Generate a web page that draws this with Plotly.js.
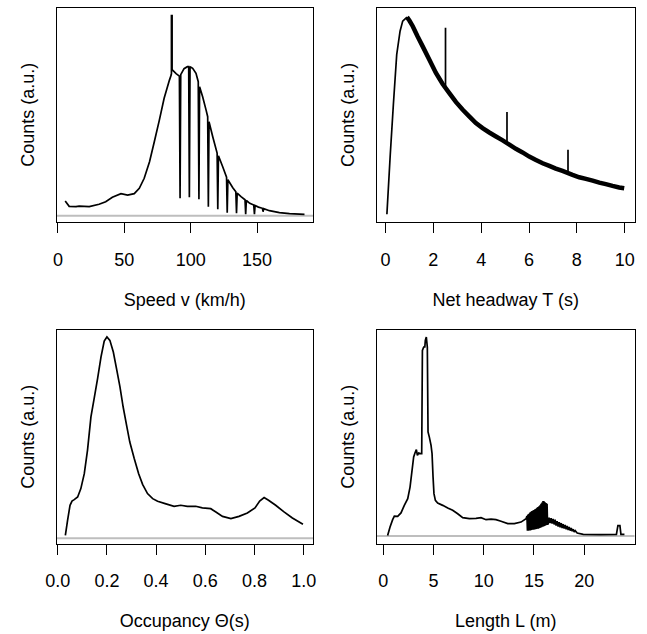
<!DOCTYPE html>
<html>
<head>
<meta charset="utf-8">
<script src="https://cdn.plot.ly/plotly-3.0.1.min.js"></script>
<style>html,body{margin:0;padding:0;background:#fff;}#chart{width:647px;height:634px;}</style>
</head>
<body>
<div id="chart"></div>
<script>
// ---------- Data (arbitrary units) ----------
// Panel 1: speed distribution
const speedV = [5.5, 8.5, 13.6, 16, 23.6, 31, 36, 41, 47.5, 52.5, 57.5, 61.3, 65, 69, 72.6, 76.4, 80, 84, 85.3, 85.5, 85.5, 86.0, 86.0, 86.4, 89, 91.5,
  92.0, 92.5, 95, 97.5, 98.5, 99.0, 99.5, 101.5, 104, 105.7, 106.2, 106.7, 109, 111.6, 112.8, 113.3, 113.8, 116.6, 119.9, 120.4, 120.9,
  124.1, 127.0, 127.5, 128.0, 131.7, 134.0, 134.5, 135.0, 137.9, 140.9, 141.4, 141.9, 144.5, 147.5, 148.0, 148.5, 151, 154.0, 154.5, 155.0,
  159.3, 166.8, 174.4, 185.7];
const speedCounts = [0.073, 0.047, 0.045, 0.048, 0.045, 0.057, 0.07, 0.092, 0.11, 0.103, 0.11, 0.137, 0.187, 0.27, 0.37, 0.478, 0.587, 0.678, 0.703, 0.71, 1.0, 1.0, 0.73, 0.728, 0.71, 0.698,
  0.087, 0.705, 0.735, 0.745, 0.745, 0.092, 0.745, 0.737, 0.712, 0.67, 0.082, 0.645, 0.595, 0.528, 0.495, 0.045, 0.47, 0.395, 0.313, 0.032, 0.3,
  0.245, 0.193, 0.015, 0.18, 0.14, 0.12, 0.012, 0.113, 0.095, 0.08, 0.007, 0.076, 0.062, 0.053, 0.007, 0.051, 0.043, 0.037, 0.02, 0.035,
  0.025, 0.015, 0.01, 0.007];
const speedTicks = [0, 50, 100, 150];

// Panel 2: net headway distribution
const headwayT = [0.06, 0.2, 0.33, 0.47, 0.61, 0.72, 0.9, 1.0, 1.14, 1.34, 1.55, 1.83, 2.11, 2.39, 2.67, 2.95, 3.23, 3.5, 3.78, 4.06, 4.34,
  4.62, 4.9, 5.18, 5.45, 5.73, 6.01, 6.29, 6.57, 6.85, 7.12, 7.4, 7.82, 8.1, 8.38, 8.66, 8.94, 9.21, 9.49, 9.77, 9.98];
const headwayCounts = [0, 0.302, 0.556, 0.81, 0.929, 0.98, 1.0, 0.983, 0.954, 0.903, 0.853, 0.785, 0.717, 0.661, 0.615, 0.569, 0.53, 0.497, 0.463, 0.437, 0.415,
  0.395, 0.375, 0.353, 0.332, 0.314, 0.293, 0.276, 0.259, 0.246, 0.232, 0.22, 0.2, 0.188, 0.18, 0.171, 0.161, 0.153, 0.144, 0.136, 0.132];
const headwaySpikeT = [2.51, 5.08, 7.63];
const headwaySpikeTop = [0.946, 0.519, 0.327];
const headwaySpikeBase = [0.65, 0.366, 0.213];
const headwayTicks = [0, 2, 4, 6, 8, 10];

// Panel 3: occupancy distribution
const occTheta = [0.031, 0.040, 0.050, 0.058, 0.067, 0.081, 0.094, 0.108, 0.121, 0.135, 0.148, 0.162, 0.176, 0.189, 0.2, 0.212, 0.226, 0.239, 0.253,
  0.266, 0.28, 0.293, 0.311, 0.329, 0.345, 0.365, 0.386, 0.406, 0.44, 0.473, 0.5, 0.527, 0.561, 0.588, 0.622, 0.643, 0.67, 0.704, 0.737, 0.771,
  0.802, 0.821, 0.839, 0.857, 0.886, 0.92, 0.954, 0.997];
const occCounts = [0.015, 0.089, 0.164, 0.185, 0.192, 0.205, 0.247, 0.321, 0.437, 0.603, 0.694, 0.793, 0.901, 0.98, 1.0, 0.983, 0.925, 0.843, 0.752,
  0.652, 0.561, 0.478, 0.396, 0.321, 0.268, 0.222, 0.197, 0.184, 0.171, 0.159, 0.164, 0.159, 0.159, 0.151, 0.147, 0.131, 0.109, 0.098, 0.109, 0.126,
  0.151, 0.185, 0.202, 0.189, 0.164, 0.131, 0.101, 0.07];
const occTicks = [0.0, 0.2, 0.4, 0.6, 0.8, 1.0];

// Panel 4: vehicle length distribution
const lengthL = [0.44, 0.68, 0.94, 1.11, 1.44, 1.77, 2.1, 2.44, 2.67, 2.87, 3.03, 3.16, 3.3, 3.4, 3.53, 3.7, 3.83, 3.9, 4.03, 4.14, 4.19, 4.29, 4.39,
  4.46, 4.59, 4.76, 4.86, 4.96, 5.05, 5.19, 5.42, 5.92, 6.42, 6.91, 7.41, 7.91, 8.57, 9.23, 9.73, 10.23, 10.73, 11.22, 11.72, 12.39, 13.05, 13.71, 14.21,
  14.3, 14.35, 14.4, 14.45, 14.5, 14.55, 14.6, 14.65, 14.7, 14.75, 14.8, 14.85, 14.9, 14.95, 15.0, 15.05, 15.1, 15.15, 15.2, 15.25, 15.3, 15.35,
  15.4, 15.45, 15.5, 15.55, 15.6, 15.65, 15.7, 15.75, 15.8, 15.85, 15.9, 15.95, 16.0, 16.05, 16.1, 16.15, 16.2, 16.25, 16.3, 16.35, 16.4,
  16.5, 16.6, 16.7, 16.8, 16.9, 17.0, 17.1, 17.2, 17.3, 17.4, 17.5, 17.6, 17.7, 17.8, 17.9, 18.0, 18.1, 18.2, 18.3, 18.4, 18.5, 18.6, 18.7,
  18.8, 18.9, 19.0, 19.1, 19.3, 19.9, 21.6, 23.2, 23.35, 23.55, 23.65, 24.0];
const lengthCounts = [0.003, 0.045, 0.082, 0.1, 0.099, 0.116, 0.154, 0.188, 0.246, 0.33, 0.397, 0.417, 0.434, 0.405, 0.417, 0.414, 0.414, 0.933, 0.95, 0.95, 0.983, 1.0, 0.95,
  0.523, 0.497, 0.456, 0.414, 0.296, 0.213, 0.179, 0.166, 0.154, 0.141, 0.129, 0.112, 0.092, 0.087, 0.089, 0.092, 0.082, 0.085, 0.082, 0.074, 0.062, 0.062, 0.07, 0.087,
  0.100, 0.027, 0.108, 0.027, 0.112, 0.028, 0.118, 0.028, 0.122, 0.030, 0.125, 0.031, 0.128, 0.032, 0.131, 0.033, 0.134, 0.034, 0.137, 0.035, 0.142, 0.036,
  0.146, 0.037, 0.150, 0.040, 0.155, 0.042, 0.162, 0.044, 0.168, 0.046, 0.176, 0.048, 0.174, 0.050, 0.170, 0.053, 0.166, 0.055, 0.162, 0.058, 0.060,
  0.092, 0.065, 0.09, 0.062, 0.086, 0.058, 0.082, 0.052, 0.075, 0.047, 0.070, 0.044, 0.065, 0.040, 0.060, 0.037, 0.055, 0.034, 0.050, 0.030, 0.045, 0.027, 0.040,
  0.024, 0.034, 0.020, 0.027, 0.015, 0.008, 0.007, 0.008, 0.052, 0.052, 0.008, 0.008];
const lengthTicks = [0, 5, 10, 15, 20];

// ---------- Styling ----------
const FONT = {family: 'Liberation Sans, Arial, Helvetica, sans-serif', size: 18, color: '#000'};
const LINE = {color: '#000', width: 1.7, simplify: false};

// Headway: thin rising part up to the peak, thicker noisy decay afterwards
const peakIdx = headwayCounts.indexOf(Math.max(...headwayCounts));
const spikeX = [], spikeY = [];
headwaySpikeT.forEach((t, i) => { spikeX.push(t, t, null); spikeY.push(headwaySpikeBase[i], headwaySpikeTop[i], null); });

const traces = [
  {x: speedV, y: speedCounts, xaxis: 'x', yaxis: 'y', type: 'scatter', mode: 'lines', line: LINE},
  {x: headwayT.slice(0, peakIdx + 1), y: headwayCounts.slice(0, peakIdx + 1), xaxis: 'x2', yaxis: 'y2', type: 'scatter', mode: 'lines', line: LINE},
  {x: headwayT.slice(peakIdx), y: headwayCounts.slice(peakIdx), xaxis: 'x2', yaxis: 'y2', type: 'scatter', mode: 'lines', line: {color: '#000', width: 4.5, simplify: false}},
  {x: spikeX, y: spikeY, xaxis: 'x2', yaxis: 'y2', type: 'scatter', mode: 'lines', line: LINE},
  {x: occTheta, y: occCounts, xaxis: 'x3', yaxis: 'y3', type: 'scatter', mode: 'lines', line: LINE},
  {x: lengthL, y: lengthCounts, xaxis: 'x4', yaxis: 'y4', type: 'scatter', mode: 'lines', line: LINE}
];

function xAxis(domain, range, ticks, title, anchor, fmt) {
  const a = {
    domain: domain, range: range, anchor: anchor,
    tickmode: 'array', tickvals: ticks,
    ticks: 'outside', ticklen: 10, tickwidth: 1, tickcolor: '#000',
    ticklabelstandoff: 11,
    showline: true, mirror: true, linecolor: '#000', linewidth: 1,
    showgrid: false, zeroline: false, fixedrange: true,
    tickfont: FONT,
    title: {text: title, font: FONT, standoff: 24}
  };
  if (fmt) a.tickformat = fmt;
  return a;
}
function yAxis(domain, range, anchor) {
  return {
    domain: domain, range: range, anchor: anchor,
    ticks: '', showticklabels: false,
    showline: true, mirror: true, linecolor: '#000', linewidth: 1,
    showgrid: false, zeroline: false, fixedrange: true,
    title: {text: 'Counts (a.u.)', font: FONT, standoff: 16}
  };
}

const W = 647, H = 634;
const colL = [56.5 / W, 313 / W], colR = [377 / W, 634.5 / W];
const rowT = [1 - 222 / H, 1 - 7.7 / H], rowB = [1 - 543.7 / H, 1 - 329.7 / H];

function zeroLine(xr, yr) {
  return {type: 'line', xref: xr + ' domain', x0: 0, x1: 1, yref: yr, y0: 0, y1: 0,
          line: {color: '#bebebe', width: 2}, layer: 'below'};
}

const layout = {
  width: W, height: H,
  margin: {l: 0, r: 0, t: 0, b: 0},
  paper_bgcolor: '#fff', plot_bgcolor: '#fff',
  showlegend: false,
  font: FONT,
  xaxis: xAxis(colL, [-1.05, 192.1], speedTicks, 'Speed v (km/h)', 'y'),
  yaxis: yAxis(rowT, [-0.0315, 1.04], 'x'),
  xaxis2: xAxis(colR, [-0.354, 10.41], headwayTicks, 'Net headway T (s)', 'y2'),
  yaxis2: yAxis(rowT, [-0.039, 1.048], 'x2'),
  xaxis3: xAxis(colL, [-0.005, 1.0378], occTicks, 'Occupancy Θ(s)', 'y3', '.1f'),
  yaxis3: yAxis(rowB, [-0.0268, 1.036], 'x3'),
  xaxis4: xAxis(colR, [-0.617, 25.0], lengthTicks, 'Length L (m)', 'y4'),
  yaxis4: yAxis(rowB, [-0.0387, 1.037], 'x4'),
  shapes: [zeroLine('x', 'y'), zeroLine('x3', 'y3'), zeroLine('x4', 'y4')]
};

Plotly.newPlot('chart', traces, layout, {staticPlot: true, displayModeBar: false});
</script>
</body>
</html>
